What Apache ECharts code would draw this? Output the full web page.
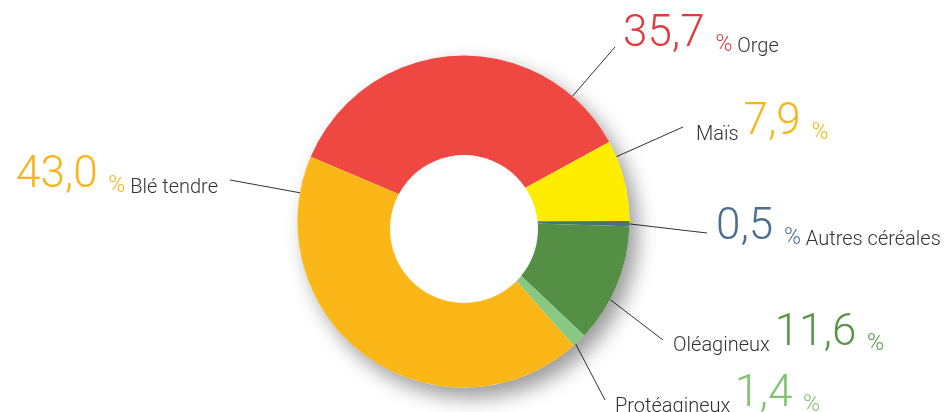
<!DOCTYPE html>
<html>
<head>
<meta charset="utf-8">
<title>Répartition des surfaces</title>
<script src="https://cdn.jsdelivr.net/npm/echarts@6/dist/echarts.min.js"></script>
<style>
  html, body { margin: 0; padding: 0; background: #fff; }
  #chart { width: 948px; height: 412px; }
</style>
</head>
<body>
<div id="chart"></div>
<script>
// données
const categories = ['Orge', 'Maïs', 'Autres céréales', 'Oléagineux', 'Protéagineux', 'Blé tendre'];
const shares = [35.7, 7.9, 0.5, 11.6, 1.4, 43.0];

const sliceColors = ['#ef4742', '#ffed00', '#4a6d8a', '#558f45', '#88c883', '#fbb617'];
const valueColors = ['#e03b3e', '#f8b51c', '#4b6e8c', '#5a9648', '#7cc46f', '#f9b41c'];

const center = [463.5, 221.6];
const outerR = 166;

// placement des étiquettes (angle d'accroche sur le disque, fin du trait, ancre du texte)
const spots = [
  { angle: 49,   end: [615, 47],  x: 623, y: 34,  align: 'left',  nameFirst: false },
  { angle: 23,   end: [683, 127], x: 696, y: 122, align: 'left',  nameFirst: true },
  { angle: -0.8, end: [707, 233], x: 716, y: 227, align: 'left',  nameFirst: false },
  { angle: -28,  end: [663, 340], x: 673, y: 333, align: 'left',  nameFirst: true },
  { angle: -47.5,end: [605, 400], x: 615, y: 394, align: 'left',  nameFirst: true },
  { angle: 170,  end: [230, 180], x: 218, y: 175, align: 'right', nameFirst: false }
];

const chart = echarts.init(document.getElementById('chart'));

function fmt(v) {
  return v.toFixed(1).replace('.', ',');
}

const rich = {
  name: { fontFamily: 'Roboto', fontWeight: 300, fontSize: 20, lineHeight: 32, color: '#333', verticalAlign: 'bottom' }
};
categories.forEach(function (c, i) {
  rich['num' + i] = { fontFamily: 'Roboto', fontWeight: 300, fontSize: 44, lineHeight: 46, color: valueColors[i], verticalAlign: 'bottom' };
  rich['pct' + i] = { fontFamily: 'Roboto', fontWeight: 300, fontSize: 23, lineHeight: 33, color: valueColors[i], verticalAlign: 'bottom' };
});

const option = {
  backgroundColor: '#fff',
  animation: false,
  series: [
    {
      // ombre portée sous l'anneau
      type: 'pie',
      silent: true,
      center: center,
      radius: [0, outerR],
      label: { show: false },
      itemStyle: {
        color: '#fff',
        shadowBlur: 20,
        shadowOffsetX: 8,
        shadowOffsetY: 10,
        shadowColor: 'rgba(0,0,0,0.4)'
      },
      data: [{ value: 1, name: '' }]
    },
    {
      name: 'surfaces',
      type: 'pie',
      center: center,
      radius: [0, outerR],
      startAngle: 157,
      clockwise: true,
      silent: true,
      color: sliceColors,
      label: {
        show: true,
        position: 'outside',
        formatter: function (p) {
          const i = p.dataIndex;
          const num = '{num' + i + '|' + fmt(shares[i]) + ' }';
          const pct = '{pct' + i + '|%}';
          if (spots[i].nameFirst) {
            return '{name|' + p.name + ' }' + num + pct;
          }
          return num + pct + '{name| ' + p.name + '}';
        },
        rich: rich
      },
      labelLine: {
        show: true,
        length: 10,
        length2: 10,
        lineStyle: { color: '#333', width: 1 }
      },
      labelLayout: function (params) {
        const s = spots[params.dataIndex];
        const a = s.angle * Math.PI / 180;
        const start = [center[0] + outerR * Math.cos(a), center[1] - outerR * Math.sin(a)];
        return {
          x: s.x,
          y: s.y,
          align: s.align,
          verticalAlign: 'middle',
          labelLinePoints: [start, s.end, s.end]
        };
      },
      data: categories.map(function (c, i) {
        return { name: c, value: shares[i] };
      })
    },
    {
      // trou central
      type: 'pie',
      silent: true,
      center: [464, 229],
      radius: [0, 74],
      label: { show: false },
      itemStyle: { color: '#fff' },
      data: [{ value: 1, name: '' }]
    }
  ]
};

chart.setOption(option);
</script>
</body>
</html>
